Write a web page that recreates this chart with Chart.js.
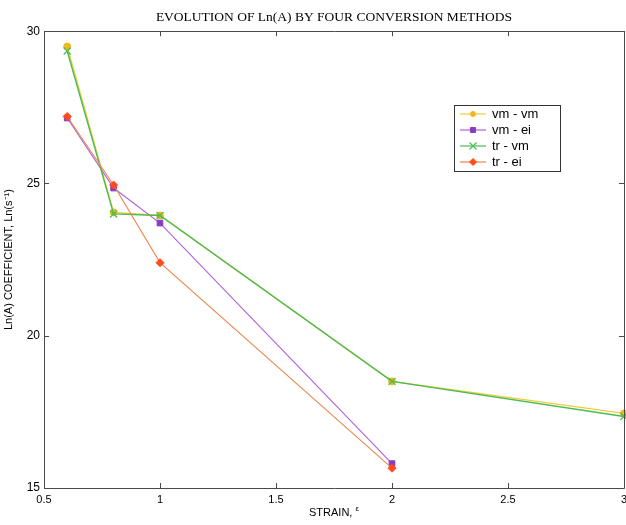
<!DOCTYPE html>
<html>
<head>
<meta charset="utf-8">
<script src="https://cdn.jsdelivr.net/npm/chart.js@4/dist/chart.umd.min.js"></script>
<style>
  html, body { margin: 0; padding: 0; background: #ffffff; }
  #wrap { width: 626px; height: 525px; }
</style>
</head>
<body>
<div id="wrap"><canvas id="lnaChart" width="626" height="525"></canvas></div>
<script>
// data
var strainVmVm = [0.6, 0.8, 1, 2, 3];
var lnaVmVm = [29.5, 24.05, 23.95, 18.5, 17.45];

var strainVmEi = [0.6, 0.8, 1, 2];
var lnaVmEi = [27.15, 24.85, 23.7, 15.8];

var strainTrVm = [0.6, 0.8, 1, 2, 3];
var lnaTrVm = [29.35, 24.0, 23.95, 18.5, 17.35];

var strainTrEi = [0.6, 0.8, 1, 2];
var lnaTrEi = [27.2, 24.95, 22.4, 15.65];

var seriesNames = ["vm - vm", "vm - ei", "tr - vm", "tr - ei"];
var xTicks = [0.5, 1, 1.5, 2, 2.5, 3];
var yTicks = [15, 20, 25, 30];

function toPoints(xs, ys) {
    return xs.map(function (x, i) { return { x: x, y: ys[i] }; });
}

// 상자 테두리 + 안쪽 눈금 (matlab 스타일)
var framePlugin = {
    id: 'frame',
    afterDatasetsDraw: function (chart) {
        var ctx = chart.ctx;
        var a = chart.chartArea;
        var xs = chart.scales.x, ys = chart.scales.y;
        var len = 5;
        ctx.save();
        ctx.strokeStyle = '#4a4a4a';
        ctx.lineWidth = 1;
        ctx.beginPath();
        ctx.rect(Math.round(a.left) + 0.5, Math.round(a.top) + 0.5,
                 Math.round(a.right - a.left), Math.round(a.bottom - a.top));
        xTicks.forEach(function (t) {
            var px = Math.round(xs.getPixelForValue(t)) + 0.5;
            ctx.moveTo(px, a.bottom); ctx.lineTo(px, a.bottom - len);
            ctx.moveTo(px, a.top); ctx.lineTo(px, a.top + len);
        });
        yTicks.forEach(function (t) {
            var py = Math.round(ys.getPixelForValue(t)) + 0.5;
            ctx.moveTo(a.left, py); ctx.lineTo(a.left + len, py);
            ctx.moveTo(a.right, py); ctx.lineTo(a.right - len, py);
        });
        ctx.stroke();

        // x축 제목 (epsilon 위첨자)
        var cx = (a.left + a.right) / 2;
        ctx.fillStyle = '#000000';
        ctx.textBaseline = 'alphabetic';
        ctx.textAlign = 'left';
        ctx.font = '11px "Liberation Sans", Arial, sans-serif';
        var main = 'STRAIN, ';
        var w1 = ctx.measureText(main).width;
        ctx.font = '8px "Liberation Sans", Arial, sans-serif';
        var w2 = ctx.measureText('\u03B5').width;
        var x0 = cx - (w1 + w2) / 2;
        ctx.font = '11px "Liberation Sans", Arial, sans-serif';
        ctx.fillText(main, x0, 516);
        ctx.font = '8px "Liberation Sans", Arial, sans-serif';
        ctx.fillText('\u03B5', x0 + w1, 511);
        ctx.restore();
    }
};

// legend box inside the plot
var legendBoxPlugin = {
    id: 'legendBox',
    afterDraw: function (chart) {
        var ctx = chart.ctx;
        var bx = 454, by = 105, bw = 106, bh = 66;
        ctx.save();
        ctx.fillStyle = '#ffffff';
        ctx.fillRect(bx, by, bw, bh);
        ctx.strokeStyle = '#333333';
        ctx.lineWidth = 1;
        ctx.strokeRect(bx + 0.5, by + 0.5, bw, bh);
        var sorted = chart.data.datasets.slice().sort(function (p, q) { return p.legendIndex - q.legendIndex; });
        sorted.forEach(function (ds, i) {
            var y = 114 + i * 16;
            ctx.strokeStyle = ds.borderColor;
            ctx.lineWidth = 1.2;
            ctx.beginPath();
            ctx.moveTo(460, y); ctx.lineTo(486, y);
            ctx.stroke();
            ctx.fillStyle = ds.pointBackgroundColor;
            ctx.strokeStyle = ds.pointBorderColor;
            ctx.lineWidth = ds.pointBorderWidth;
            Chart.helpers.drawPoint(ctx, {
                pointStyle: ds.pointStyle,
                rotation: 0,
                radius: ds.legendRadius,
                borderWidth: ds.pointBorderWidth
            }, 473, y);
            ctx.fillStyle = '#000000';
            ctx.font = '13px "Liberation Sans", Arial, sans-serif';
            ctx.textBaseline = 'middle';
            ctx.textAlign = 'left';
            ctx.fillText(ds.label, 492, y);
        });
        ctx.restore();
    }
};

var ctx = document.getElementById('lnaChart').getContext('2d');

var chart = new Chart(ctx, {
    type: 'line',
    data: {
        datasets: [{
            label: seriesNames[0],
            legendIndex: 0,
            order: 4,
            data: toPoints(strainVmVm, lnaVmVm),
            borderColor: '#f2cc3a',
            borderWidth: 1.4,
            pointStyle: 'circle',
            pointRadius: 3.5,
            legendRadius: 2.5,
            pointBackgroundColor: '#f0b81c',
            pointBorderColor: '#f0b81c',
            pointBorderWidth: 1
        }, {
            label: seriesNames[1],
            legendIndex: 1,
            order: 3,
            data: toPoints(strainVmEi, lnaVmEi),
            borderColor: '#b060d8',
            borderWidth: 1.1,
            pointStyle: 'rect',
            pointRadius: 4,
            legendRadius: 3.5,
            pointBackgroundColor: '#8a3cc0',
            pointBorderColor: '#8a3cc0',
            pointBorderWidth: 1
        }, {
            label: seriesNames[2],
            legendIndex: 2,
            order: 2,
            data: toPoints(strainTrVm, lnaTrVm),
            borderColor: '#4cbb55',
            borderWidth: 1.4,
            pointStyle: 'crossRot',
            pointRadius: 5,
            legendRadius: 5,
            pointBackgroundColor: '#4cbb55',
            pointBorderColor: '#4cbb55',
            pointBorderWidth: 1.2
        }, {
            label: seriesNames[3],
            legendIndex: 3,
            order: 1,
            data: toPoints(strainTrEi, lnaTrEi),
            borderColor: '#e8874c',
            borderWidth: 1.1,
            pointStyle: 'rectRot',
            pointRadius: 4,
            legendRadius: 3.5,
            pointBackgroundColor: '#ff4a1a',
            pointBorderColor: '#ff4a1a',
            pointBorderWidth: 1
        }]
    },
    options: {
        responsive: false,
        animation: false,
        clip: false,
        layout: {
            autoPadding: false,
            padding: { left: 0, right: 2, top: 0, bottom: 0 }
        },
        scales: {
            x: {
                type: 'linear',
                min: 0.5,
                max: 3,
                afterBuildTicks: function (scale) {
                    scale.ticks = xTicks.map(function (v) { return { value: v }; });
                },
                afterFit: function (scale) {
                    scale.height = 37;
                    scale.paddingLeft = 0;
                    scale.paddingRight = 0;
                },
                grid: { display: false, drawTicks: false },
                border: { display: false },
                ticks: {
                    padding: 5,
                    color: '#000000',
                    maxRotation: 0,
                    autoSkip: false,
                    callback: function (v) { return String(v); },
                    font: { family: '"Liberation Sans", Arial, sans-serif', size: 11 }
                },
                title: { display: false }
            },
            y: {
                type: 'linear',
                min: 15,
                max: 30,
                afterBuildTicks: function (scale) {
                    scale.ticks = yTicks.map(function (v) { return { value: v }; });
                },
                afterFit: function (scale) {
                    scale.width = 44;
                    scale.paddingTop = 0;
                    scale.paddingBottom = 0;
                },
                grid: { display: false, drawTicks: false },
                border: { display: false },
                ticks: {
                    padding: 4,
                    color: '#000000',
                    autoSkip: false,
                    callback: function (v) { return String(v); },
                    font: { family: '"Liberation Sans", Arial, sans-serif', size: 12 }
                },
                title: {
                    display: true,
                    text: 'Ln(A) COEFFICIENT, Ln(s\u207B\u00B9)',
                    color: '#000000',
                    padding: { top: 2, bottom: 0 },
                    font: { family: '"Liberation Sans", Arial, sans-serif', size: 11 }
                }
            }
        },
        plugins: {
            legend: { display: false },
            tooltip: { enabled: false },
            title: {
                display: true,
                fullSize: false,
                text: 'EVOLUTION OF Ln(A) BY FOUR CONVERSION METHODS',
                color: '#000000',
                padding: { top: 9, bottom: 6 },
                font: { family: '"Liberation Serif", "Times New Roman", serif', size: 13.5, weight: 'normal' }
            }
        }
    },
    plugins: [framePlugin, legendBoxPlugin]
});
</script>
</body>
</html>
